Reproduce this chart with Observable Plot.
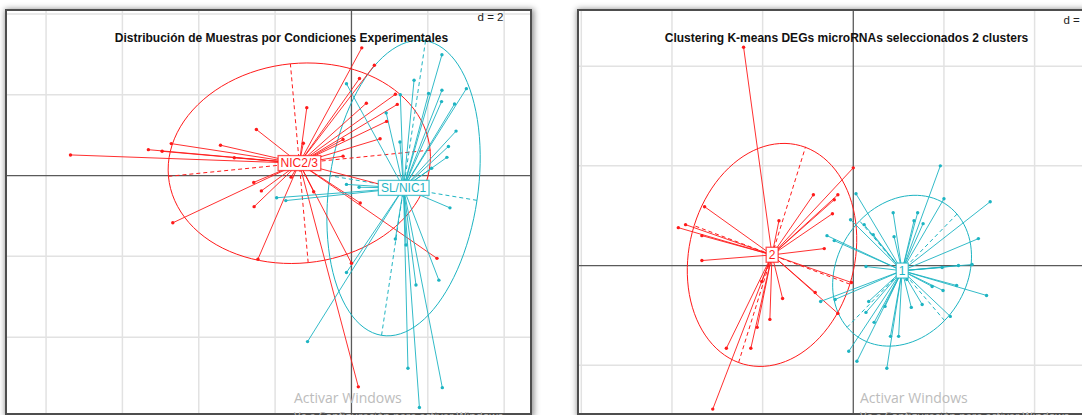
<!DOCTYPE html>
<html>
<head>
<meta charset="utf-8">
<script src="https://cdn.jsdelivr.net/npm/d3@7"></script>
<script src="https://cdn.jsdelivr.net/npm/@observablehq/plot@0.6"></script>
<style>
  html, body { margin: 0; padding: 0; background: #fff; width: 1082px; height: 415px; overflow: hidden; }
  .panel { position: absolute; border: 2px solid #4d4d4d; box-shadow: 1px 1px 6px 1px rgba(0,0,0,0.45); overflow: hidden; background: #fff; }
  .panel svg { display: block; }
  .wm { position: absolute; font-family: "Open Sans", sans-serif; color: #bcbcbc; white-space: nowrap; line-height: 1; }
</style>
</head>
<body>
<div id="left" class="panel" style="left:5px; top:9px; width:523px; height:402px;"></div>
<div id="right" class="panel" style="left:577px; top:9px; width:524px; height:402px;"></div>
<div class="wm" style="left:294px; top:391px; font-size:14px;">Activar Windows</div>
<div class="wm" style="left:294px; top:410px; font-size:11px;">Ve a Configuración para activar Windows.</div>
<div class="wm" style="left:860px; top:391px; font-size:14px;">Activar Windows</div>
<div class="wm" style="left:860px; top:410px; font-size:11px;">Ve a Configuración para activar Windows.</div>
<script>
// Titles and group names
const leftTitle = "Distribución de Muestras por Condiciones Experimentales";
const rightTitle = "Clustering K-means DEGs microRNAs seleccionados 2 clusters";
const leftGroups = ["NIC2/3", "SL/NIC1"];
const rightGroups = ["2", "1"];
const groupColors = ["#ff1a1a", "#1db4c2"];

// Sample coordinates, condition NIC2/3
const nicX = [-7.36, -5.32, -4.96, -4.72, -3.43, -2.49, -3.07, -1.17, -1.26, 0.27, 0.60, 0.21, 1.15, 1.20, 0.92, 0.75, -0.22, -2.56, -2.36, -2.55, 0.23, -1.58, -0.99, -4.68, -2.45, 0.00, 2.24, 0.18, 0.39, -0.22, 0.88];
const nicY = [0.51, 0.64, 0.60, 0.79, 0.75, 1.14, 0.44, 1.68, 0.80, 3.16, 2.73, 2.40, 2.01, 1.76, 1.34, 0.91, 0.48, -0.17, -0.38, -0.77, -0.68, -0.04, -0.40, -1.17, -2.07, -2.17, -2.05, -5.23, 1.79, 0.89, -0.25];

// Sample coordinates, condition SL/NIC1
const slX = [-0.13, 1.64, 2.37, 3.01, 1.28, 2.02, 2.37, 2.36, 2.70, 0.91, 2.74, 2.54, 2.50, 1.27, 2.10, -0.13, 0.20, -1.96, -1.72, 2.58, 1.15, 1.43, -0.13, 2.29, 1.69, -1.15, 1.48, 2.38, 1.78];
const slY = [2.27, 2.36, 2.99, 2.15, 2.00, 2.03, 2.11, 1.83, 1.77, 1.55, 1.10, 0.72, 0.45, 0.83, 0.18, -0.22, -0.29, -0.55, -0.62, -0.80, -1.57, -1.72, -2.40, -2.59, -2.71, -4.11, -4.77, -5.25, -5.74];

// microRNA coordinates, k-means cluster 2
const k2X = [-1.21, 0.00, -1.64, -0.44, -0.17, -0.21, -0.23, -1.93, -1.85, -1.67, -1.67, -0.82, -0.32, -0.02, -0.42, -0.17, -0.78, -0.92, -1.06, -1.01, -1.13, -1.40, -1.55];
const k2Y = [2.19, 0.98, 0.59, 0.71, 0.71, 0.66, 0.52, 0.38, 0.41, 0.30, 0.05, 0.45, 0.17, -0.17, -0.27, -0.48, -0.33, -0.54, -0.62, -0.16, -0.83, -0.83, -1.44];

// microRNA coordinates, k-means cluster 1
const k1X = [0.96, 1.51, 1.00, 0.03, 0.44, 0.71, 0.67, 0.77, 0.12, -0.03, 0.22, 0.45, -0.29, -0.21, 1.38, 0.14, 1.31, 1.16, 0.98, 1.47, 1.14, 0.99, 0.87, 0.59, 0.64, 0.76, 1.07, -0.36, -0.20, 0.17, 0.14, 0.35, 0.23, 0.41, 0.50, -0.05, 0.04, 0.37];
const k1Y = [1.00, 0.64, 0.67, 0.72, 0.53, 0.53, 0.45, 0.42, 0.41, 0.46, 0.31, 0.29, 0.30, 0.25, 0.27, -0.01, 0.01, 0.00, -0.02, -0.30, -0.20, -0.25, -0.21, -0.14, -0.42, -0.39, -0.51, -0.36, -0.34, -0.36, -0.47, -0.41, -0.57, -0.71, -0.71, -0.86, -0.96, -1.03];

// Group summary: centroid, inertia ellipse (1.5 sd) and its principal axes
function makeGroup(name, xs, ys, color, coeff = 1.5) {
  const pts = xs.map((x, i) => ({x, y: ys[i]}));
  const mx = d3.mean(xs), my = d3.mean(ys);
  const vx = d3.mean(xs, x => (x - mx) ** 2);
  const vy = d3.mean(ys, y => (y - my) ** 2);
  const cxy = d3.mean(pts, p => (p.x - mx) * (p.y - my));
  const delta = Math.sqrt((vx - vy) ** 2 + 4 * cxy * cxy);
  const e1 = (vx + vy + delta) / 2, e2 = Math.max(0, (vx + vy - delta) / 2);
  const l1 = Math.sqrt(e1), l2 = Math.sqrt(e2);
  const th = Math.atan2(e1 - vx, cxy);
  const c = Math.cos(th), s = Math.sin(th);
  const ell = d3.range(101).map(i => {
    const t = (2 * Math.PI * i) / 100;
    const a = coeff * l1 * Math.cos(t), b = coeff * l2 * Math.sin(t);
    return {x: mx + a * c - b * s, y: my + a * s + b * c};
  });
  const axes = [
    {x1: mx - coeff * l1 * c, y1: my - coeff * l1 * s, x2: mx + coeff * l1 * c, y2: my + coeff * l1 * s},
    {x1: mx + coeff * l2 * s, y1: my - coeff * l2 * c, x2: mx - coeff * l2 * s, y2: my + coeff * l2 * c}
  ];
  return {name, pts, mx, my, ell, axes, color};
}

function drawPanel(el, {width, height, xDomain, yDomain, d, title, titleDx, dText, dDx, dDy, dAnchor, groups}) {
  const gx = d3.range(Math.ceil(xDomain[0] / d) * d, xDomain[1], d).filter(v => Math.abs(v) > 1e-9);
  const gy = d3.range(Math.ceil(yDomain[0] / d) * d, yDomain[1], d).filter(v => Math.abs(v) > 1e-9);
  const plot = Plot.plot({
    width, height,
    margin: 0,
    x: {domain: xDomain, axis: null},
    y: {domain: yDomain, axis: null},
    style: {fontFamily: "'Liberation Sans', Arial, sans-serif", background: "#fff"},
    marks: [
      Plot.ruleX(gx, {stroke: "#e2e2e2", strokeWidth: 1.5}),
      Plot.ruleY(gy, {stroke: "#e2e2e2", strokeWidth: 1.5}),
      Plot.ruleX([0], {stroke: "#5a5a5a", strokeWidth: 1.3}),
      Plot.ruleY([0], {stroke: "#5a5a5a", strokeWidth: 1.3}),
      ...groups.flatMap(g => [
        Plot.line(g.ell, {x: "x", y: "y", stroke: g.color, strokeWidth: 1}),
        Plot.link(g.axes, {x1: "x1", y1: "y1", x2: "x2", y2: "y2", stroke: g.color, strokeWidth: 1, strokeDasharray: "4 3"})
      ]),
      ...groups.map(g => Plot.link(g.pts, {x1: () => g.mx, y1: () => g.my, x2: "x", y2: "y", stroke: g.color, strokeWidth: 1, strokeOpacity: 0.9})),
      ...groups.map(g => Plot.dot(g.pts, {x: "x", y: "y", r: 1.7, fill: g.color, stroke: null})),
      ...groups.map(g => Plot.text([g], {x: "mx", y: "my", text: "name", fill: g.color, fontSize: 12})),
      Plot.text([title], {text: t => t, frameAnchor: "top", dx: titleDx, dy: 27, lineAnchor: "middle", fontWeight: "bold", fontSize: 12, fill: "#111"}),
      Plot.text([dText], {text: t => t, frameAnchor: dAnchor, textAnchor: dAnchor === "top-right" ? "end" : "start", dx: dDx, dy: dDy, lineAnchor: "middle", fontSize: 11.5, fill: "#222"})
    ]
  });
  el.appendChild(plot);
  // white boxes behind the group labels, outlined in the group colour
  const colorOf = new Map(groups.map(g => [g.name, g.color]));
  const svgNS = "http://www.w3.org/2000/svg";
  plot.querySelectorAll("text").forEach(t => {
    const name = t.textContent;
    if (!colorOf.has(name)) return;
    const bb = t.getBBox();
    const r = document.createElementNS(svgNS, "rect");
    const tr = t.getAttribute("transform");
    if (tr) r.setAttribute("transform", tr);
    r.setAttribute("x", bb.x - 2.5);
    r.setAttribute("y", bb.y - 0.5);
    r.setAttribute("width", bb.width + 5);
    r.setAttribute("height", bb.height + 1);
    r.setAttribute("fill", "#fff");
    r.setAttribute("stroke", colorOf.get(name));
    r.setAttribute("stroke-width", 1.3);
    r.setAttribute("stroke-opacity", 0.75);
    t.parentNode.insertBefore(r, t);
  });
}

const leftSets = [[nicX, nicY], [slX, slY]];
const rightSets = [[k2X, k2Y], [k1X, k1Y]];

drawPanel(document.getElementById("left"), {
  width: 523, height: 402,
  xDomain: [-9.01, 4.69], yDomain: [-5.89, 4.06], d: 2,
  title: leftTitle, titleDx: 12.5,
  dText: "d = 2", dAnchor: "top-right", dDx: -27, dDy: 6,
  groups: leftGroups.map((n, i) => makeGroup(n, leftSets[i][0], leftSets[i][1], groupColors[i]))
});

drawPanel(document.getElementById("right"), {
  width: 524, height: 402,
  xDomain: [-3.02, 2.76], yDomain: [-1.484, 2.548], d: 1,
  title: rightTitle, titleDx: 5,
  dText: "d = 1", dAnchor: "top-left", dDx: 484, dDy: 9,
  groups: rightGroups.map((n, i) => makeGroup(n, rightSets[i][0], rightSets[i][1], groupColors[i]))
});
</script>
</body>
</html>
